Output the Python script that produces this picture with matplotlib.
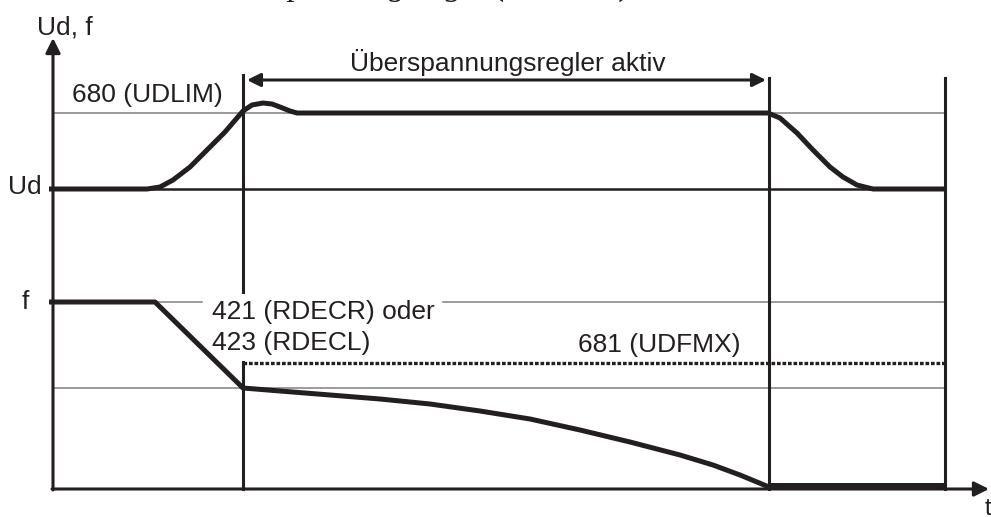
import matplotlib.pyplot as plt

# schematic time axis (x) and levels (y), both in picture units, y grows downward
ud_t = [49, 147, 160, 173, 190, 207, 225, 243, 252, 263, 272, 280, 290, 297, 768,
        780, 797, 813, 830, 843, 857, 873, 945]
ud_v = [189, 189, 187, 180, 167, 150, 132, 111, 105, 103, 104, 107, 111, 113, 113,
        118, 133, 150, 167, 177, 185, 189, 189]

f_t = [49, 155, 243, 280, 330, 380, 430, 480, 530, 580, 630, 680, 713, 740, 769]
f_v = [302, 302, 388, 391, 395, 399, 404, 411, 419, 430, 442, 455, 465, 475, 487]
f_end_t = [769, 945]
f_end_v = [485, 485]

lvl_udlim = 113
lvl_ud = 189
lvl_f = 302
lvl_fmin = 388
lvl_udfmx = 363

t_start = 243
t_stop = 769
t_end = 945

black = '#231f20'
gray = '#808080'
font = ['Liberation Sans', 'DejaVu Sans']

fig = plt.figure(figsize=(9.91, 5.17), dpi=100)
ax = fig.add_axes([0, 0, 1, 1])
ax.set_xlim(0, 991)
ax.set_ylim(517, 0)
ax.axis('off')

# thin reference levels
ax.plot([53, t_end], [lvl_udlim, lvl_udlim], color=gray, lw=1.1)
ax.plot([53, t_end], [lvl_fmin, lvl_fmin], color=gray, lw=1.1)
ax.plot([155, 202], [lvl_f, lvl_f], color=gray, lw=1.1)
ax.plot([443, t_end], [lvl_f, lvl_f], color=gray, lw=1.1)
ax.plot([53, t_end], [lvl_ud, lvl_ud], color=black, lw=1.8)

# dotted UDFMX level
ax.plot([t_start, t_end], [lvl_udfmx, lvl_udfmx], color=black, lw=2.4,
        linestyle=(0, (1.1, 0.55)))

# vertical markers
ax.plot([t_start, t_start], [75, 292], color=black, lw=2.2)
ax.plot([t_start, t_start], [lvl_udfmx - 1, 489], color=black, lw=2.2)
ax.plot([t_stop, t_stop], [78, 489], color=black, lw=2.2)
ax.plot([t_end, t_end], [78, 489], color=black, lw=2.2)

# axes with arrows
ax.annotate('', xy=(53, 38), xytext=(53, 490),
            arrowprops=dict(arrowstyle='-|>', color=black, lw=2.2,
                            mutation_scale=22, shrinkA=0, shrinkB=0))
ax.annotate('', xy=(989, 489), xytext=(52, 489),
            arrowprops=dict(arrowstyle='-|>', color=black, lw=2.2,
                            mutation_scale=22, shrinkA=0, shrinkB=0))

# active range arrow
ax.annotate('', xy=(247, 80), xytext=(766, 80),
            arrowprops=dict(arrowstyle='<|-|>', color=black, lw=2.2,
                            mutation_scale=20, shrinkA=0, shrinkB=0))

# curves
ax.plot(ud_t, ud_v, color=black, lw=3.6, solid_joinstyle='round', solid_capstyle='butt')
ax.plot(f_t, f_v, color=black, lw=3.6, solid_joinstyle='round', solid_capstyle='butt')
ax.plot(f_end_t, f_end_v, color=black, lw=3.6, solid_capstyle='butt')

# labels
fs = 19
ax.text(37, 34, 'Ud, f', fontsize=fs, family=font, color=black, va='baseline')
ax.text(42, 187, 'Ud', fontsize=fs, family=font, color=black, ha='right', va='center')
ax.text(29, 302, 'f', fontsize=fs, family=font, color=black, ha='right', va='center')
ax.text(988, 509, 't', fontsize=fs - 2, family=font, color=black, ha='center', va='center')
ax.text(72, 102, '680 (UDLIM)', fontsize=fs, family=font, color=black, va='baseline')
ax.text(350, 71, 'Überspannungsregler aktiv', fontsize=fs, family=font, color=black,
        va='baseline')
ax.text(212, 319, '421 (RDECR) oder', fontsize=fs, family=font, color=black, va='baseline')
ax.text(212, 350, '423 (RDECL)', fontsize=fs, family=font, color=black, va='baseline')
ax.text(578, 352, '681 (UDFMX)', fontsize=fs, family=font, color=black, va='baseline')

# heading cut off at the top edge (only descenders show, as in the source)
ax.text(208, -5, 'Überspannungsregler', fontsize=24, family=['Liberation Serif'],
        style='italic', color=black, va='baseline')
ax.text(492, -5, '(UDLIM)', fontsize=24, family=['Liberation Serif'],
        weight='bold', color=black, va='baseline')

fig.savefig('out.png', dpi=100)
